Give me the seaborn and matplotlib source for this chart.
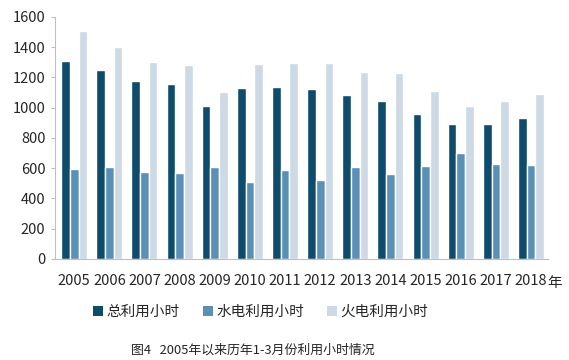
import matplotlib
matplotlib.use("Agg")
import matplotlib.pyplot as plt
import seaborn as sns
import pandas as pd
from matplotlib.patches import Patch

# Values
years = ["2005", "2006", "2007", "2008", "2009", "2010", "2011",
         "2012", "2013", "2014", "2015", "2016", "2017", "2018"]
total_hours = [1311, 1252, 1175, 1159, 1012, 1129, 1135,
               1122, 1082, 1042, 959, 890, 890, 930]
hydro_hours = [597, 606, 575, 569, 606, 507, 590,
               520, 606, 560, 615, 698, 630, 621]
thermal_hours = [1505, 1404, 1305, 1283, 1104, 1289, 1298,
                 1298, 1236, 1228, 1113, 1012, 1042, 1089]
series_names = ["总利用小时", "水电利用小时", "火电利用小时"]
colors = ["#0f4c6c", "#5b90b6", "#cdd9e4"]

df = pd.DataFrame({"year": years * 3,
                   "hours": total_hours + hydro_hours + thermal_hours,
                   "series": [s for s in series_names for _ in years]})

sns.set_style("white")
plt.rcParams['font.family'] = ['Noto Sans CJK SC', 'DejaVu Sans']

fig = plt.figure(figsize=(5.69, 3.6), dpi=100)
ax = fig.add_axes([0.097, 0.281, 0.866, 0.672])

sns.barplot(data=df, x="year", y="hours", hue="series", palette=colors,
            width=0.74, saturation=1, ax=ax, legend=False)

ax.set_ylim(0, 1600)
ax.set_yticks(range(0, 1601, 200))
ax.set_xlim(-0.54, 13.48)
ax.set_xlabel("")
ax.set_ylabel("")
ax.tick_params(axis="y", labelsize=10.5, length=3, color="#bfbfbf", left=True, pad=4)
ax.tick_params(axis="x", labelsize=10.5, length=0, pad=11)
for side in ["top", "right"]:
    ax.spines[side].set_visible(False)
ax.spines["left"].set_color("#bfbfbf")
ax.spines["bottom"].set_color("#bfbfbf")

# unit after the last year label
fig.text(0.962, 0.213, "年", fontsize=10.5, ha="left", va="center")

handles = [Patch(facecolor=c, edgecolor="none") for c in colors]
fig.legend(handles, series_names, loc="center", bbox_to_anchor=(0.458, 0.133),
           ncol=3, frameon=False, fontsize=10.5, handlelength=0.7, handleheight=0.7,
           handletextpad=0.2, columnspacing=1.6)

fig.text(0.445, 0.028, "图4   2005年以来历年1-3月份利用小时情况", fontsize=9.3,
         ha="center", va="center")

fig.savefig("out.png", dpi=100)
